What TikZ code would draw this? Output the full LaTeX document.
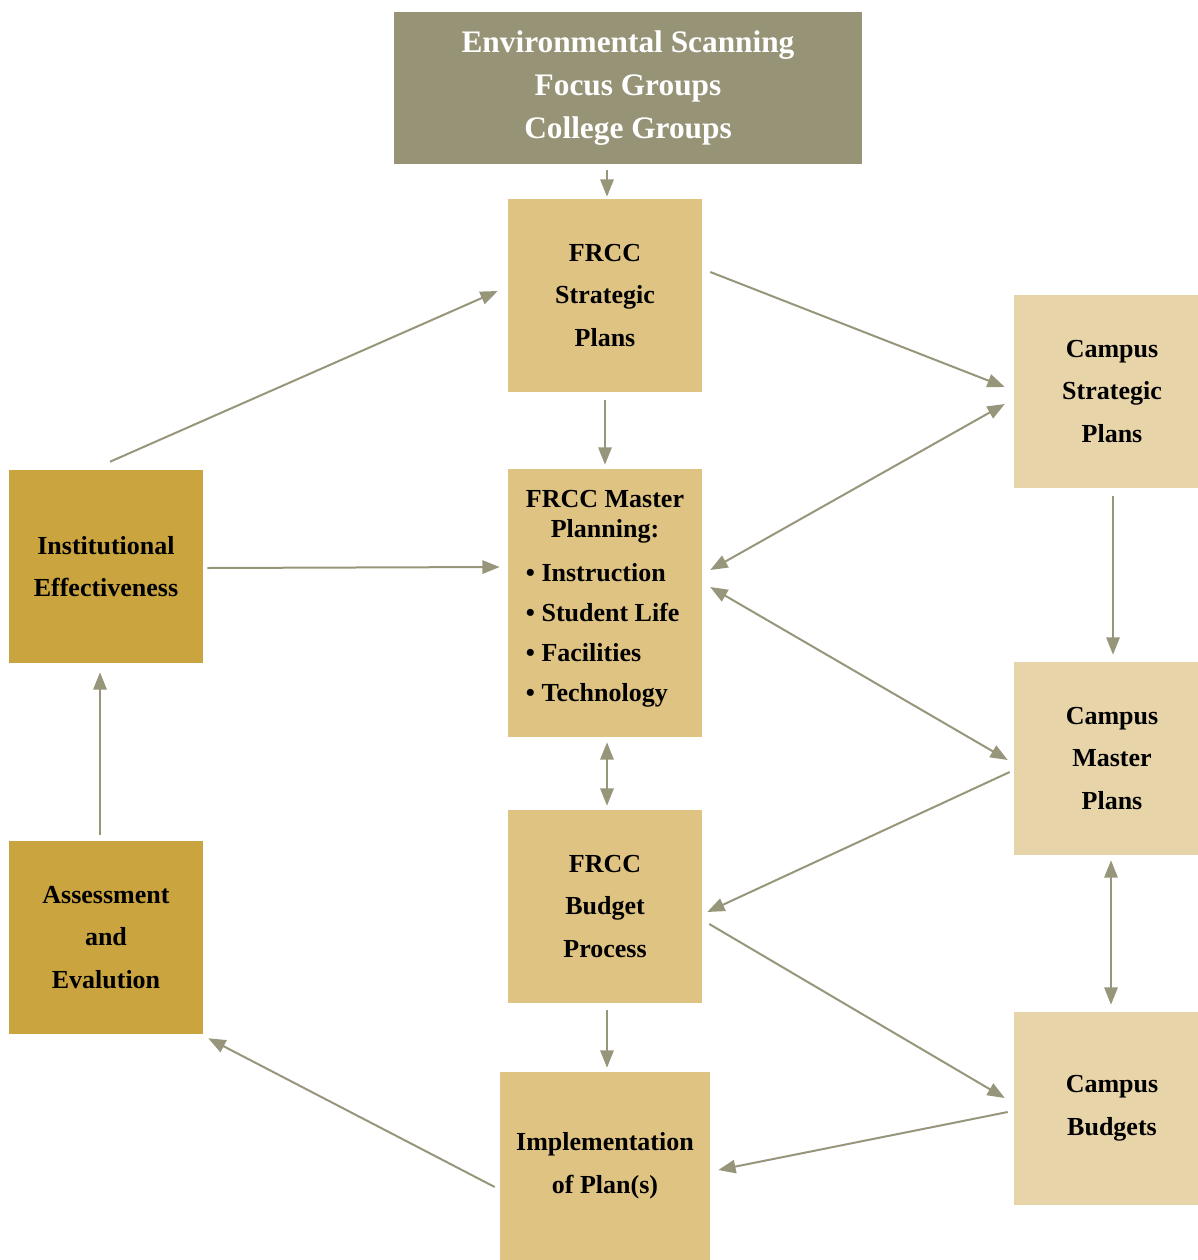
\documentclass[tikz,border=0pt]{standalone}
\usepackage{fontspec}
\setmainfont{Liberation Serif}
\usetikzlibrary{arrows.meta}

\definecolor{scanfill}{HTML}{979377}
\definecolor{frccfill}{HTML}{DFC382}
\definecolor{campusfill}{HTML}{E8D4A9}
\definecolor{ieafill}{HTML}{C9A43F}
\definecolor{flowline}{HTML}{97967A}

\begin{document}
\begin{tikzpicture}[x=0.75pt,y=-0.75pt,
	box/.style={inner sep=0pt,align=center,font=\fontsize{19.5}{32}\selectfont\bfseries,
		minimum width=145.5pt,minimum height=144.75pt},
	frcc/.style={box,fill=frccfill},
	campus/.style={box,fill=campusfill,minimum width=147pt},
	iea/.style={box,fill=ieafill},
	flow/.style={draw=flowline,line width=1.5pt,-{Triangle[length=13pt,width=10pt]}},
	both/.style={flow,{Triangle[length=13pt,width=10pt]}-{Triangle[length=13pt,width=10pt]}}]
	\useasboundingbox (0,0) rectangle (1198,1260);
	% top row
	\node[box,fill=scanfill,text=white,minimum width=351pt,minimum height=114pt,
		font=\fontsize{23.5}{32}\selectfont\bfseries] (scan) at (628,88)
		{Environmental Scanning\\Focus Groups\\College Groups};
	% middle column
	\node[frcc] (fsp) at (605,295.5) {FRCC\\Strategic\\Plans};
	\node[frcc,minimum height=201pt] (fmp) at (605,603) {\fontsize{19.5}{30}\selectfont
		\raisebox{0pt}[\height][\dimexpr\depth+10pt\relax]{\begin{tabular}{@{}l@{}}
		\multicolumn{1}{@{}c@{}}{FRCC Master}\\[-7.5pt]
		\multicolumn{1}{@{}c@{}}{Planning:}\\[2.5pt]
		\textbullet\ Instruction\\
		\textbullet\ Student Life\\
		\textbullet\ Facilities\\
		\textbullet\ Technology
		\end{tabular}}};
	\node[frcc] (fbp) at (605,906.5) {FRCC\\Budget\\Process};
	\node[frcc,minimum width=157.5pt,minimum height=141pt] (impl) at (605,1166) {Implementation\\of Plan(s)};
	% left column
	\node[iea] (inst) at (106,566.5) {Institutional\\Effectiveness};
	\node[iea] (assess) at (106,937.5) {Assessment\\and\\Evalution};
	% right column (runs past the page edge)
	\node[campus] (csp) at (1112,391.5) {Campus\\Strategic\\Plans};
	\node[campus] (cmp) at (1112,758.5) {Campus\\Master\\Plans};
	\node[campus] (cb) at (1112,1108.5) {Campus\\Budgets};

	% connectors
	\draw[flow] ([shift={(-21,6)}]scan.south) -- ([shift={(2,-2)}]fsp.north);
	\draw[flow] ([shift={(0,8)}]fsp.south) -- ([shift={(0,-4)}]fmp.north);
	\draw[both] ([shift={(2,5)}]fmp.south) -- ([shift={(2,-4)}]fbp.north);
	\draw[flow] ([shift={(2,7)}]fbp.south) -- ([shift={(2,-4)}]impl.north);
	\draw[flow] ([shift={(4,1.5)}]inst.east) -- ([shift={(-8,-36)}]fmp.west);
	\draw[flow] ([shift={(4,-8)}]inst.north) -- ([shift={(-10,-4.5)}]fsp.west);
	\draw[flow] ([shift={(-6,-6)}]assess.north) -- ([shift={(-6,9)}]inst.south);
	\draw[flow] ([shift={(-5,21)}]impl.west) -- ([shift={(5,4)}]assess.south east);
	\draw[flow] ([shift={(8,-23.5)}]fsp.east) -- ([shift={(-9,-4.5)}]csp.west);
	\draw[both] ([shift={(-9,12.5)}]csp.west) -- ([shift={(8,-33)}]fmp.east);
	\draw[both] ([shift={(8,-16)}]fmp.east) -- ([shift={(-6,1.5)}]cmp.west);
	\draw[flow] ([shift={(-4,13.5)}]cmp.west) -- ([shift={(5,5.5)}]fbp.east);
	\draw[flow] ([shift={(7,17.5)}]fbp.east) -- ([shift={(-9,-10.5)}]cb.west);
	\draw[flow] ([shift={(-6,3.5)}]cb.west) -- ([shift={(8,4)}]impl.east);
	\draw[flow] ([shift={(1,8)}]csp.south) -- ([shift={(1,-7)}]cmp.north);
	\draw[both] ([shift={(-1,5)}]cmp.south) -- ([shift={(-1,-7)}]cb.north);
\end{tikzpicture}
\end{document}
